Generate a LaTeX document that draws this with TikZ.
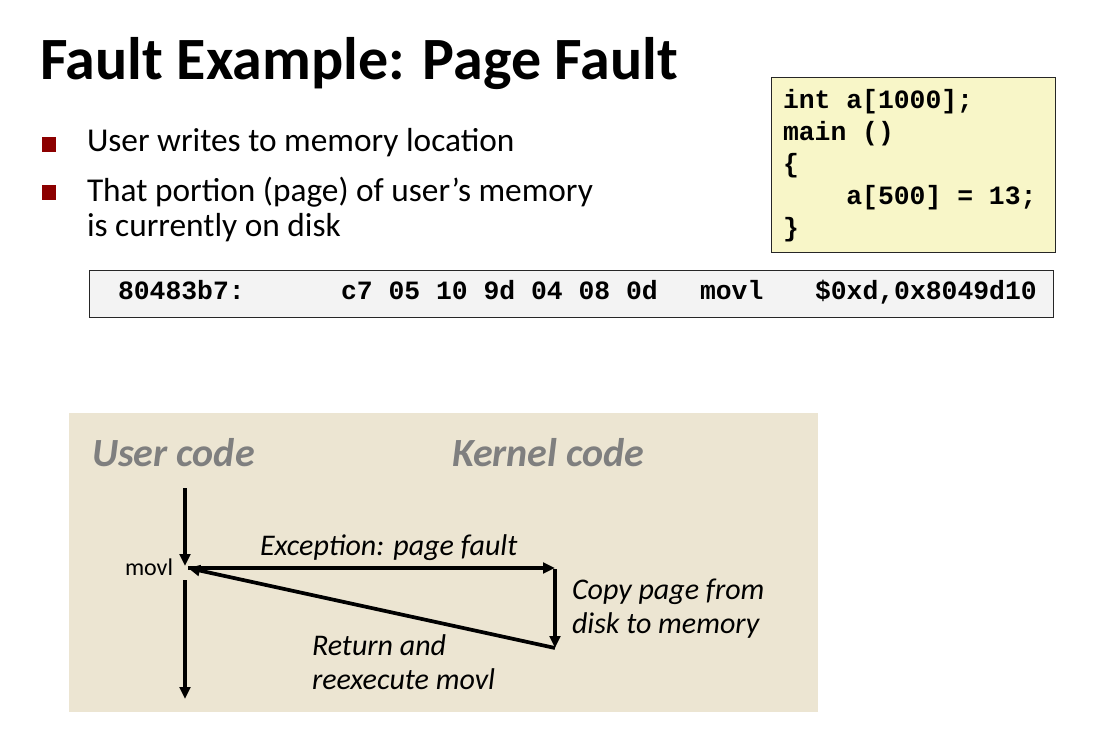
\documentclass[tikz,border=0pt]{standalone}
\usepackage{fontspec}
\setmainfont{Carlito}
\setmonofont{Liberation Mono}
\usetikzlibrary{arrows.meta}
\definecolor{bulletred}{RGB}{140,0,0}
\definecolor{codeyellow}{RGB}{248,246,200}
\definecolor{instrgray}{RGB}{243,243,243}
\definecolor{panelbg}{RGB}{236,229,210}
\definecolor{headgray}{RGB}{127,127,127}
\tikzset{
  txt/.style={anchor=base west, inner sep=0pt, outer sep=0pt},
  titletxt/.style={txt, font=\fontsize{45}{54}\selectfont\bfseries},
  bullettxt/.style={txt, font=\fontsize{25}{26.25}\selectfont, align=left},
  bulletsq/.style={fill=bulletred, draw=none, minimum width=10.5pt, minimum height=11pt, inner sep=0pt, anchor=north west},
  codetxt/.style={txt, font=\fontsize{19.8}{24}\selectfont\ttfamily\bfseries, align=left},
  headtxt/.style={txt, font=\fontsize{30}{36}\selectfont\bfseries\itshape, text=headgray},
  lbl/.style={txt, font=\fontsize{22.5}{25.1}\selectfont\itshape, align=left},
  smalltxt/.style={txt, font=\fontsize{18}{21}\selectfont},
  boxframe/.style={draw=black!85, line width=1.1pt, anchor=north west, inner sep=0pt},
  flow/.style={line width=2.3pt, -{Triangle[length=9pt,width=8pt]}},
  ret/.style={line width=2.8pt, -{Triangle[length=9pt,width=8pt]}},
}
\begin{document}
\begin{tikzpicture}[x=0.75pt,y=-0.75pt]
\useasboundingbox (0,0) rectangle (1107,745);
\fill[white] (0,0) rectangle (1107,745);

% title and bullets
\node[titletxt] (title) at (40,80) {Fault Example: Page Fault};
\node[bulletsq] (b1) at (42,137) {};
\node[bulletsq] (b2) at (42,185) {};
\node[bullettxt] (t1) at (87,152) {User writes to memory location};
\node[bullettxt] (t2) at (87,237) {That portion (page) of user’s memory\\is currently on disk};

% code box
\node[boxframe, fill=codeyellow, minimum width=213pt, minimum height=131.25pt] (codebox) at (771,77) {};
\node[codetxt] (code) at (783,237) {int a[1000];\\main ()\\\{\\\phantom{0000}a[500] = 13;\\\}};

% instruction box
\node[boxframe, fill=instrgray, minimum width=723pt, minimum height=35.25pt] (instbox) at (89,270) {};
\node[codetxt] (addr) at (118,300) {80483b7:};
\node[codetxt] (bytes) at (341,300) {c7 05 10 9d 04 08 0d};
\node[codetxt] (op) at (700,300) {movl};
\node[codetxt] (args) at (815,300) {\$0xd,0x8049d10};

% panel
\node[anchor=north west, inner sep=0pt, fill=panelbg, minimum width=561.75pt, minimum height=224.25pt] (panel) at (69,413) {};
\node[headtxt] (user) at (92,466) {User code};
\node[headtxt] (kernel) at (452,466) {Kernel code};

\coordinate (u0) at (185,488);
\coordinate (m) at (188,568);
\coordinate (u1) at (185,580);
\coordinate (u2) at (185,699);
\coordinate (k0) at (555,568);
\coordinate (k1) at (555,648);

\node[smalltxt] (movl) at (125,575) {movl};
\draw[flow] (u0) -- (185,566);
\draw[flow] (u1) -- (u2);
\draw[flow] (m) -- (k0);
\draw[flow] (555,569) -- (k1);
\draw[ret] (k1) -- (m);

\node[lbl] (exc) at (260,555) {Exception: page fault};
\node[lbl] (copy) at (572,633) {Copy page from\\disk to memory};
\node[lbl] (retl) at (312,689) {Return and\\reexecute movl};
\end{tikzpicture}
\end{document}
